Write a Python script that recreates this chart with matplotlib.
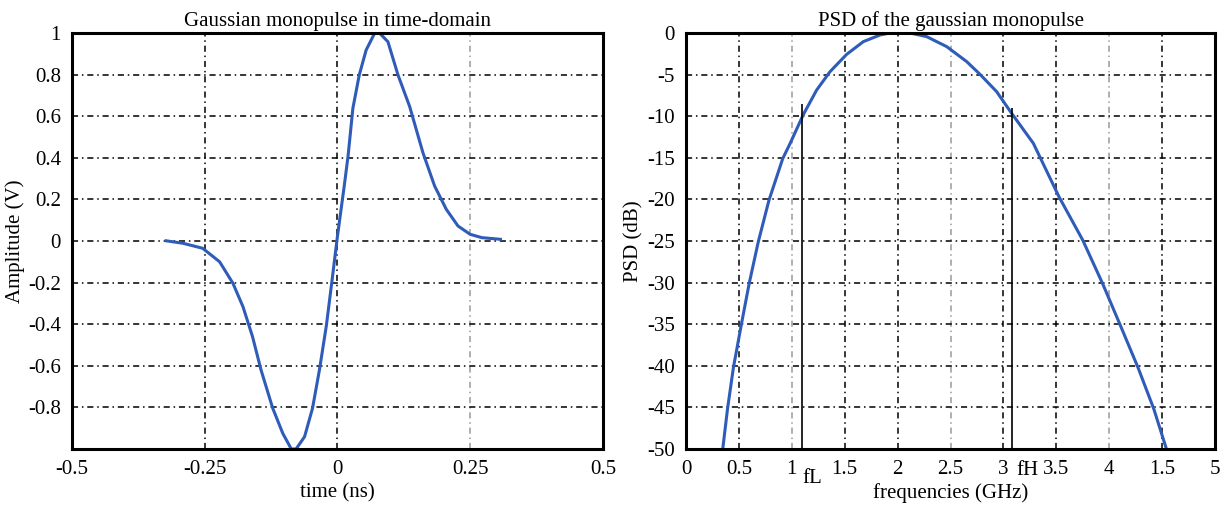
import matplotlib
matplotlib.use("Agg")
import matplotlib.pyplot as plt
import matplotlib.transforms as mtransforms

plt.rcParams["font.family"] = ["Liberation Serif", "DejaVu Serif"]

# ---------- Data ----------
# Gaussian monopulse, time-domain
time_ns = [-0.323, -0.291, -0.254, -0.222, -0.197, -0.178, -0.160, -0.144,
           -0.122, -0.103, -0.087, -0.078, -0.062, -0.047, -0.034, -0.021,
           -0.010, 0.000, 0.013, 0.020, 0.029, 0.041, 0.054, 0.070, 0.079,
           0.095, 0.114, 0.136, 0.161, 0.183, 0.205, 0.227, 0.250, 0.272,
           0.307]
amplitude = [0.001, -0.011, -0.035, -0.100, -0.203, -0.316, -0.460, -0.620,
             -0.804, -0.925, -1.000, -1.000, -0.941, -0.804, -0.620, -0.408,
             -0.184, 0.024, 0.270, 0.410, 0.638, 0.798, 0.918, 0.999, 1.000,
             0.958, 0.798, 0.646, 0.424, 0.264, 0.152, 0.072, 0.032, 0.016,
             0.008]

# PSD of the monopulse
freq_ghz = [0.347, 0.392, 0.448, 0.522, 0.597, 0.683, 0.784, 0.914, 0.983,
            1.109, 1.235, 1.361, 1.519, 1.676, 1.834, 1.928, 2.117, 2.275,
            2.464, 2.653, 2.779, 2.936, 3.078, 3.283, 3.526, 3.750, 3.937,
            4.104, 4.272, 4.422, 4.541]
psd_db = [-50.0, -45.2, -40.2, -35.1, -30.1, -25.1, -20.1, -15.1, -13.3,
          -9.8, -6.85, -4.65, -2.56, -1.04, -0.24, 0.0, 0.0, -0.44, -1.64,
          -3.44, -4.97, -7.05, -9.66, -13.26, -19.7, -24.9, -30.1, -35.1,
          -40.2, -45.2, -50.0]

# band edge markers
f_low, f_low_top = 1.10, -8.5
f_high, f_high_top = 3.08, -9.0

t_ticks = [-0.5, -0.25, 0, 0.25, 0.5]
t_ticklabels = ["-0.5", "-0.25", "0", "0.25", "0.5"]
a_ticks = [-0.8, -0.6, -0.4, -0.2, 0, 0.2, 0.4, 0.6, 0.8, 1]
a_ticklabels = ["-0.8", "-0.6", "-0.4", "-0.2", "0", "0.2", "0.4", "0.6", "0.8", "1"]
f_ticks = [0, 0.5, 1, 1.5, 2, 2.5, 3, 3.5, 4, 4.5, 5]
f_ticklabels = ["0", "0.5", "1", "1.5", "2", "2.5", "3", "3.5", "4", "1.5", "5"]
p_ticks = [0, -5, -10, -15, -20, -25, -30, -35, -40, -45, -50]

LINE_COLOR = "#2f5cb8"
GRID_STYLE = dict(color="black", linestyle=(0, (4, 2.5, 1, 2.5)), linewidth=1.1)
TICK_FS = 15
LABEL_FS = 15


def style_axes(ax, light_x):
    ax.grid(True, **GRID_STYLE)
    for i, gl in enumerate(ax.xaxis.get_gridlines()):
        if i in light_x:
            gl.set_color("#9a9a9a")
    for sp in ax.spines.values():
        sp.set_linewidth(2.2)
    ax.tick_params(length=0, labelsize=TICK_FS, pad=8)


fig = plt.figure(figsize=(12.29, 5.09), dpi=100)
ax_t = fig.add_axes([0.0586, 0.1179, 0.4320, 0.8173])
ax_f = fig.add_axes([0.5582, 0.1179, 0.4304, 0.8173])

# ---------- Left: time domain ----------
ax_t.plot(time_ns, amplitude, color=LINE_COLOR, lw=2.2, solid_joinstyle="round")
ax_t.set_xlim(-0.5, 0.5)
ax_t.set_ylim(-1, 1)
ax_t.set_xticks(t_ticks, t_ticklabels)
ax_t.set_yticks(a_ticks, a_ticklabels)
style_axes(ax_t, light_x=[3])
ax_t.set_xlabel("time (ns)", fontsize=LABEL_FS, labelpad=3)
ax_t.set_ylabel("Amplitude (V)", fontsize=LABEL_FS)
ax_t.yaxis.set_label_coords(-0.0885, 0.5)
ax_t.set_title("Gaussian monopulse in time-domain", fontsize=LABEL_FS, pad=5)

# ---------- Right: PSD ----------
ax_f.plot(freq_ghz, psd_db, color=LINE_COLOR, lw=2.2, solid_joinstyle="round")
ax_f.vlines([f_low, f_high], -50, [f_low_top, f_high_top], color="black", lw=1.2)
ax_f.set_xlim(0, 5)
ax_f.set_ylim(-50, 0)
ax_f.set_xticks(f_ticks, f_ticklabels)
ax_f.set_yticks(p_ticks)
ax_f.set_yticklabels([str(v) for v in p_ticks])
style_axes(ax_f, light_x=[2, 5, 8])
ax_f.set_xlabel("frequencies (GHz)", fontsize=LABEL_FS, labelpad=3)
ax_f.set_ylabel("PSD (dB)", fontsize=LABEL_FS)
ax_f.yaxis.set_label_coords(-0.081, 0.5)
ax_f.set_title("PSD of the gaussian monopulse", fontsize=LABEL_FS, pad=5)

trans = mtransforms.blended_transform_factory(ax_f.transData, ax_f.transAxes)
ax_f.text(f_low, -0.082, "fL", transform=trans, ha="left", va="baseline",
          fontsize=TICK_FS)
ax_f.text(f_high + 0.04, -0.062, "fH", transform=trans, ha="left", va="baseline",
          fontsize=TICK_FS)

fig.savefig("out.png", dpi=100)
